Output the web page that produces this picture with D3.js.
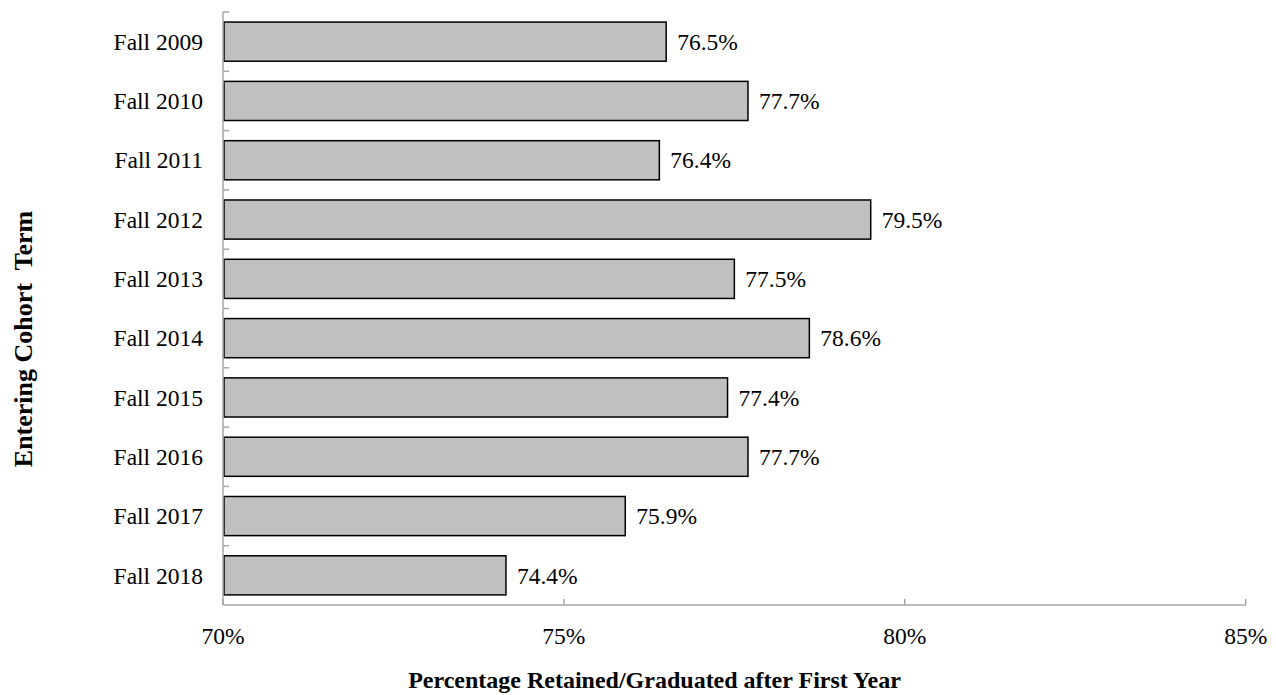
<!DOCTYPE html>
<html>
<head>
<meta charset="utf-8">
<script src="https://cdn.jsdelivr.net/npm/d3@7"></script>
<style>
  html, body { margin: 0; padding: 0; background: #fff; }
  svg text { font-family: "Liberation Serif", "Times New Roman", serif; fill: #000; }
</style>
</head>
<body>
<svg id="chart" width="1276" height="695"></svg>
<script>
const categories = ["Fall 2009","Fall 2010","Fall 2011","Fall 2012","Fall 2013","Fall 2014","Fall 2015","Fall 2016","Fall 2017","Fall 2018"];
const values = [76.5, 77.7, 76.4, 79.5, 77.5, 78.6, 77.4, 77.7, 75.9, 74.15];
const valueLabels = ["76.5%","77.7%","76.4%","79.5%","77.5%","78.6%","77.4%","77.7%","75.9%","74.4%"];
const xTicks = [70, 75, 80, 85];
const xTickLabels = ["70%","75%","80%","85%"];
const xTitle = "Percentage Retained/Graduated after First Year";
const yTitle = "Entering Cohort  Term";

(function () {
const svg = d3.select("#chart");
const mLeft = 223, mRight = 1245.7, mTop = 12, mBottom = 605;
const axisColor = "#a6a6a6";

const x = d3.scaleLinear().domain([70, 85]).range([mLeft, mRight]);
const y = d3.scaleBand().domain(categories).range([mTop, mBottom]).paddingInner(0.34).paddingOuter(0.17);
const step = y.step();

// bars
svg.append("g").selectAll("rect").data(values).join("rect")
  .attr("x", x(70) + 1)
  .attr("y", (d, i) => y(categories[i]))
  .attr("width", d => x(d) - x(70) - 1)
  .attr("height", y.bandwidth())
  .attr("fill", "#c0c0c0")
  .attr("stroke", "#000")
  .attr("stroke-width", 1.5);

// value labels
svg.append("g").selectAll("text").data(values).join("text")
  .attr("x", d => x(d) + 11)
  .attr("y", (d, i) => y(categories[i]) + y.bandwidth() / 2)
  .attr("dy", "0.35em")
  .attr("font-size", "23.5px")
  .text((d, i) => valueLabels[i]);

// y axis line and inward ticks at band boundaries
const yAxis = svg.append("g");
yAxis.append("line").attr("x1", mLeft).attr("x2", mLeft).attr("y1", mTop).attr("y2", mBottom)
  .attr("stroke", axisColor).attr("stroke-width", 1.5);
const boundaries = d3.range(categories.length).map(i => mTop + i * step);
yAxis.selectAll("line.tick").data(boundaries).join("line").attr("class", "tick")
  .attr("x1", mLeft).attr("x2", mLeft + 6).attr("y1", d => d).attr("y2", d => d)
  .attr("stroke", axisColor).attr("stroke-width", 1.5);
yAxis.selectAll("text").data(categories).join("text")
  .attr("x", mLeft - 20)
  .attr("y", d => y(d) + y.bandwidth() / 2)
  .attr("dy", "0.35em")
  .attr("text-anchor", "end")
  .attr("font-size", "23.5px")
  .text(d => d);

// x axis line and inward ticks
const xAxis = svg.append("g");
xAxis.append("line").attr("x1", mLeft).attr("x2", mRight).attr("y1", mBottom).attr("y2", mBottom)
  .attr("stroke", axisColor).attr("stroke-width", 1.5);
xAxis.selectAll("line.tick").data(xTicks).join("line").attr("class", "tick")
  .attr("x1", d => x(d)).attr("x2", d => x(d)).attr("y1", mBottom).attr("y2", mBottom - 6)
  .attr("stroke", axisColor).attr("stroke-width", 1.5);
xAxis.selectAll("text").data(xTicks).join("text")
  .attr("x", d => x(d))
  .attr("y", 644)
  .attr("text-anchor", "middle")
  .attr("font-size", "23.5px")
  .text((d, i) => xTickLabels[i]);

// titles
svg.append("text")
  .attr("x", 654.5).attr("y", 688)
  .attr("text-anchor", "middle")
  .attr("font-weight", "bold")
  .attr("font-size", "24px")
  .text(xTitle);

svg.append("text")
  .attr("transform", "translate(32,339) rotate(-90)")
  .attr("text-anchor", "middle")
  .attr("font-weight", "bold")
  .attr("font-size", "26px")
  .style("white-space", "pre")
  .text(yTitle);
})();
</script>
</body>
</html>
